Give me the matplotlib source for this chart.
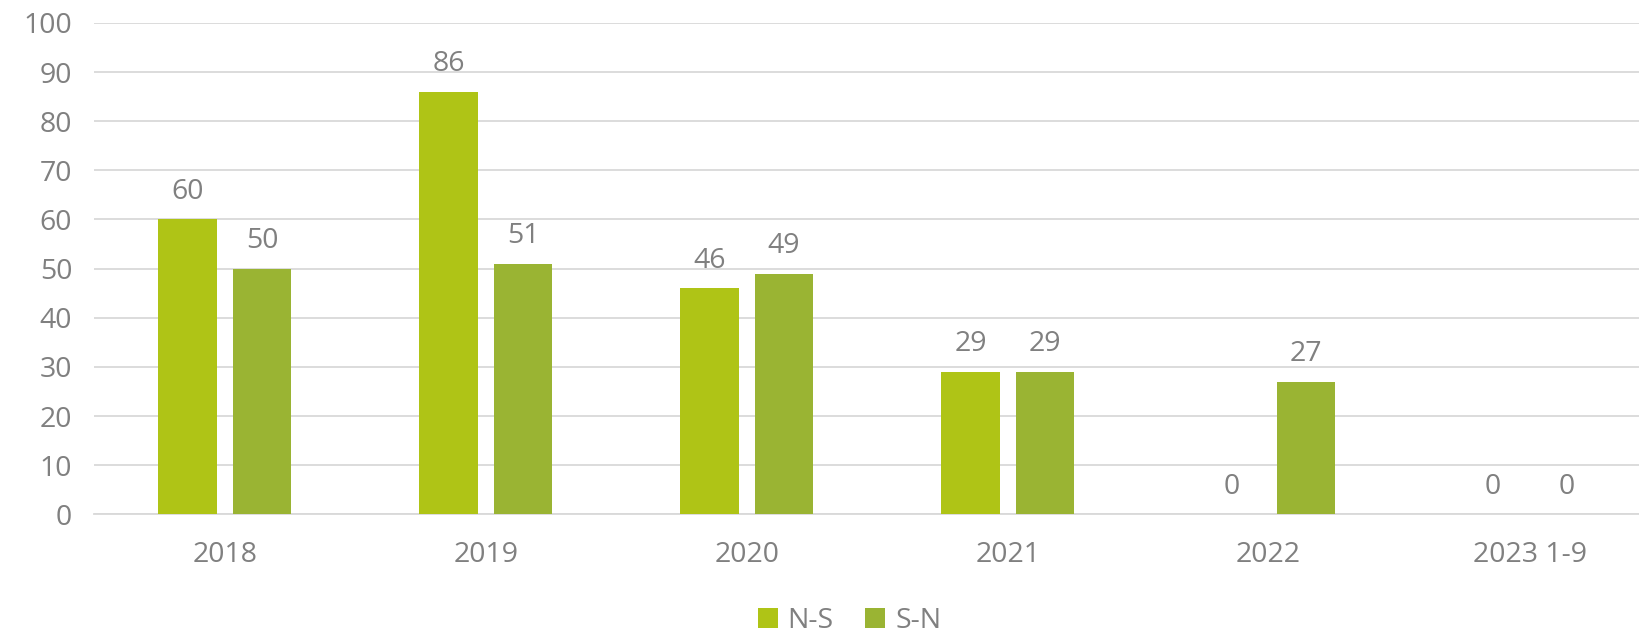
import numpy as np
import matplotlib.pyplot as plt

categories = ['2018', '2019', '2020', '2021', '2022', '2023 1-9']
ns = [60, 86, 46, 29, 0, 0]
sn = [50, 51, 49, 29, 27, 0]

plt.rcParams['font.family'] = ['Open Sans', 'DejaVu Sans']
grey = '#808080'
fs = 20.5

fig = plt.figure(figsize=(16.4, 6.35), dpi=100)
# plot area runs past the right edge of the figure, as in the original
ax = fig.add_axes([0.0576, 0.19, 0.9546, 0.774])

x = np.arange(len(categories))
w = 0.224
off = 0.1426
b1 = ax.bar(x - off, ns, w, color='#AFC416', label='N-S', zorder=3)
b2 = ax.bar(x + off, sn, w, color='#9AB433', label='S-N', zorder=3)

for bars, vals in ((b1, ns), (b2, sn)):
    for rect, v in zip(bars, vals):
        ax.text(rect.get_x() + rect.get_width() / 2, v + 4.2, str(v),
                ha='center', va='baseline', fontsize=fs, color=grey)

ax.set_xlim(-0.5, len(categories) - 0.5)
ax.set_ylim(0, 100)
ax.set_yticks(range(0, 101, 10))
ax.set_xticks(x)
ax.set_xticklabels(categories)
ax.tick_params(axis='both', length=0, labelsize=fs, labelcolor=grey)
ax.tick_params(axis='x', pad=19)
ax.tick_params(axis='y', pad=16)
ax.grid(axis='y', color='#D9D9D9', linewidth=1.3, zorder=0)
for s in ['top', 'right', 'left']:
    ax.spines[s].set_visible(False)
ax.spines['bottom'].set_color('#D9D9D9')
ax.spines['bottom'].set_linewidth(1.3)

leg = fig.legend(handles=[b1, b2], loc='center', bbox_to_anchor=(0.518, 0.022),
                 ncol=2, frameon=False, fontsize=fs, handlelength=0.7,
                 handleheight=0.7, handletextpad=0.35, columnspacing=1.1)
for t in leg.get_texts():
    t.set_color(grey)

fig.savefig('out.png')
